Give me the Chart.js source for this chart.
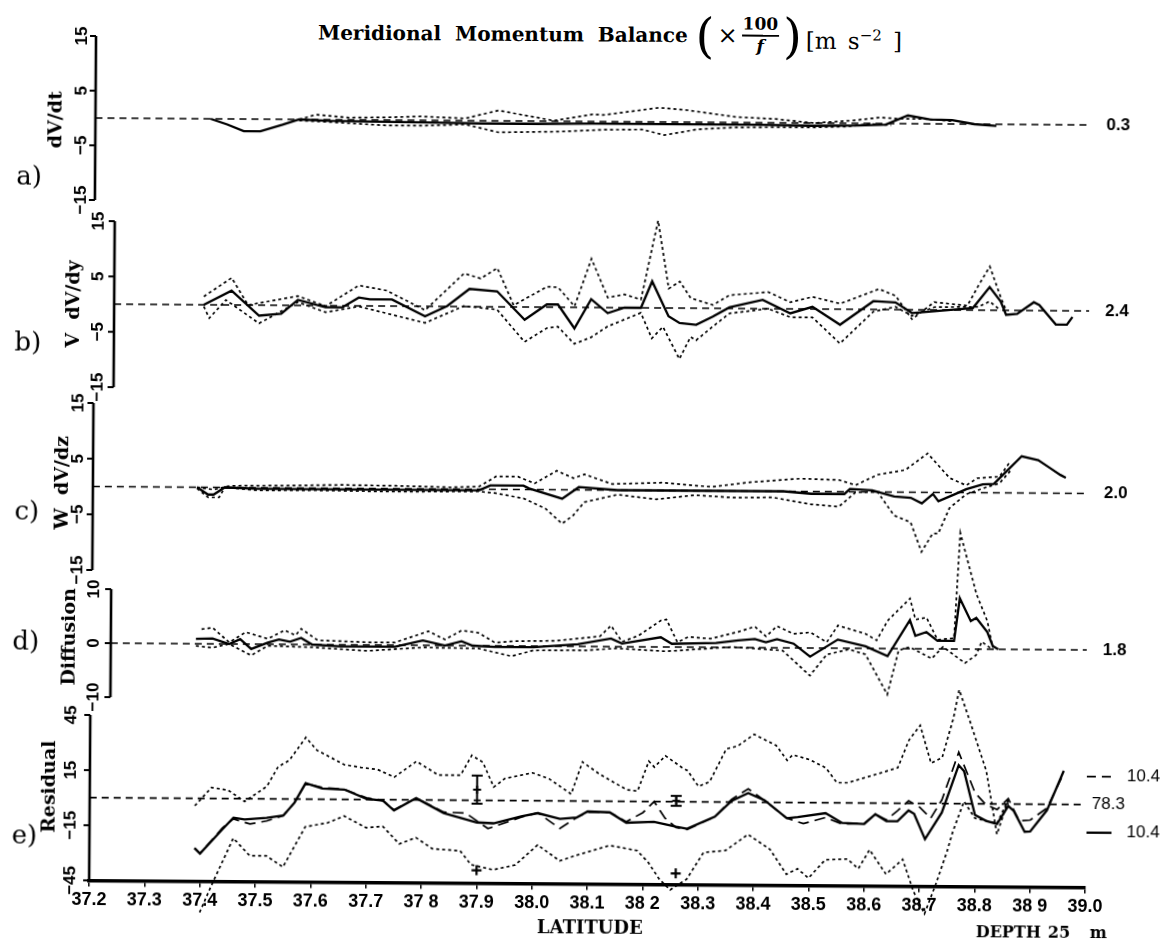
<!DOCTYPE html>
<html>
<head>
<meta charset="utf-8">
<title>Meridional Momentum Balance</title>
<script src="https://cdn.jsdelivr.net/npm/chart.js@4.4.1/dist/chart.umd.min.js"></script>
<style>
  html, body { margin: 0; padding: 0; background: #fff; overflow: hidden; }
  #page { position: relative; width: 1169px; height: 941px; transform: rotate(0.4deg); transform-origin: 92px 470px; }
  .panel { position: absolute; left: 0; }
  .txt { position: absolute; color: #000; white-space: nowrap; font-family: "DejaVu Serif", serif; }
</style>
</head>
<body>
<div id="page">
  <div class="txt" style="left:315px; top:2px; height:58px; display:flex; align-items:center; font-size:20px; font-weight:bold; word-spacing:7px;">
    <span>Meridional Momentum Balance</span>
    <span style="font-size:48px; font-weight:normal; margin:0 3px 0 8px; line-height:1;">(</span>
    <span style="font-size:24px; font-weight:normal;">&times;</span>
    <span style="display:inline-flex; flex-direction:column; align-items:center; font-size:17px; margin:0 2px 0 4px; line-height:1.05;">
      <span style="border-bottom:2px solid #000; padding:0 1px 1px;">100</span>
      <span style="font-style:italic; padding-top:1px;">f</span>
    </span>
    <span style="font-size:48px; font-weight:normal; margin:0 4px 0 2px; line-height:1;">)</span>
    <span style="font-size:23px; font-weight:normal; position:relative; top:4px; word-spacing:4px;">[m s<sup style="font-size:15px;">&minus;2</sup>&nbsp;]</span>
  </div>
  <div class="panel" style="top:0px"><canvas id="pa" width="1169" height="230"></canvas></div>
  <div class="panel" style="top:195px"><canvas id="pb" width="1169" height="215"></canvas></div>
  <div class="panel" style="top:380px"><canvas id="pc" width="1169" height="215"></canvas></div>
  <div class="panel" style="top:515px"><canvas id="pd" width="1169" height="205"></canvas></div>
  <div class="panel" style="top:670px"><canvas id="pe" width="1169" height="271"></canvas></div>
  <div class="txt" style="left:540px; top:913px; font-size:18px; font-weight:bold;">LATITUDE</div>
  <div class="txt" style="left:979px; top:916px; font-size:16px; font-weight:bold;">DEPTH</div>
  <div class="txt" style="left:1051px; top:916px; font-size:16px; font-weight:bold;">25</div>
  <div class="txt" style="left:1093px; top:916px; font-size:16px; font-weight:bold;">m</div>
</div>
<script>
// x axis tick labels as printed
const latTickLabels = ["37.2", "37.3", "37.4", "37.5", "37.6", "37.7", "37 8", "37.9", "38.0", "38.1", "38 2", "38.3", "38.4", "38.5", "38.6", "38.7", "38.8", "38 9", "39.0"];

const yTicks15 = [15, 5, -5, -15];
const yTickLabels15 = ["15", "5", "\u22125", "\u221215"];
const yTicksD = [10, 0, -10];
const yTickLabelsD = ["10", "0", "\u221210"];
const yTicksE = [45, 15, -15, -45];
const yTickLabelsE = ["45", "15", "\u221215", "\u221245"];

// a) dV/dt
const aSolidLat = [37.41, 37.44, 37.47, 37.50, 37.54, 37.57, 37.62, 37.70, 37.80, 37.90, 38.00, 38.10, 38.20, 38.30, 38.40, 38.50, 38.58, 38.63, 38.67, 38.71, 38.75, 38.79, 38.83];
const aSolid = [0, -1.0, -2.2, -2.2, -1.0, 0, -0.2, -0.3, -0.4, -0.5, -0.5, -0.4, -0.4, -0.4, -0.4, -0.5, -0.4, -0.2, 1.5, 0.8, 0.7, 0.0, -0.3];
const aUpperLat = [37.57, 37.60, 37.66, 37.73, 37.79, 37.87, 37.93, 38.03, 38.10, 38.12, 38.22, 38.27, 38.36, 38.43, 38.50, 38.57, 38.62, 38.65, 38.70, 38.75];
const aUpper = [0, 0.9, 0.4, 0.5, 0.7, 0.4, 1.9, 0.1, 1.3, 1.2, 2.6, 2.2, 1.0, 0.7, 0, 0.5, 1.1, 0.9, 0.9, 0.5];
const aLowerLat = [37.57, 37.62, 37.73, 37.79, 37.87, 37.93, 38.04, 38.12, 38.19, 38.23, 38.29, 38.36, 38.43, 38.50, 38.56, 38.60, 38.64];
const aLower = [-0.2, -0.4, -1.0, -1.0, -0.7, -2.1, -1.9, -1.5, -1.4, -2.4, -1.3, -0.9, -0.8, -0.8, -0.6, -0.1, -0.3];

// b) V dV/dy
const bSolidLat = [37.40, 37.45, 37.50, 37.54, 37.57, 37.62, 37.65, 37.68, 37.70, 37.74, 37.80, 37.84, 37.88, 37.93, 37.98, 38.02, 38.04, 38.07, 38.10, 38.13, 38.16, 38.19, 38.21, 38.24, 38.26, 38.29, 38.32, 38.35, 38.41, 38.46, 38.50, 38.55, 38.61, 38.65, 38.68, 38.79, 38.82, 38.84, 38.85, 38.87, 38.90, 38.91, 38.94, 38.96, 38.97];
const bSolid = [0, 2.6, -1.9, -1.5, 1.0, -0.3, -0.3, 1.5, 1.2, 1.2, -1.8, 0.1, 3.2, 2.8, -2.3, 0.5, 0.5, -3.8, 1.5, -1.0, 0, 0, 4.8, -1.5, -2.7, -3.0, -1.5, 0.2, 1.6, -0.8, 0.4, -2.8, 1.5, 1.3, -0.6, 0.4, 4.2, 1.6, -0.8, -0.6, 1.5, 1.0, -2.5, -2.5, -1.1];
const bUpperLat = [37.40, 37.45, 37.48, 37.57, 37.62, 37.68, 37.73, 37.80, 37.87, 37.90, 37.93, 37.96, 38.02, 38.04, 38.07, 38.10, 38.13, 38.16, 38.19, 38.22, 38.24, 38.26, 38.28, 38.32, 38.35, 38.42, 38.46, 38.50, 38.55, 38.62, 38.65, 38.68, 38.72, 38.78, 38.80, 38.82, 38.84, 38.85];
const bUpper = [1.5, 4.9, 0, 1.7, -0.1, 3.7, 2.8, -0.7, 6.0, 5.1, 7.0, 0.3, 3.7, 3.6, 0.2, 8.8, 1.8, 2.4, 1.5, 15.8, 3.5, 4.8, 1.8, 0.6, 2.4, 3.0, 1.2, 2.2, 1.0, 3.7, 2.5, -1.7, 1.4, 0.8, 4.5, 7.9, 2.4, 0];
const bLowerLat = [37.40, 37.41, 37.44, 37.50, 37.57, 37.62, 37.68, 37.80, 37.87, 37.93, 37.98, 38.02, 38.04, 38.07, 38.10, 38.13, 38.19, 38.21, 38.23, 38.26, 38.28, 38.29, 38.32, 38.35, 38.42, 38.46, 38.50, 38.55, 38.61, 38.65, 38.68, 38.72, 38.80, 38.82, 38.84];
const bLower = [-0.3, -2.4, 0.9, -3.3, 0.6, -1.2, -0.1, -3.0, 0.1, -0.5, -6.3, -3.8, -3.5, -6.6, -5.4, -3.4, -0.9, -5.5, -3.4, -9.2, -5.2, -5.8, -3.3, -0.9, 0, -1.5, -1.5, -6.2, -0.4, 0.5, -1.1, 0.5, 0.6, 1.6, 0];

// c) W dV/dz
const cSolidLat = [37.39, 37.41, 37.42, 37.44, 37.50, 37.60, 37.70, 37.80, 37.90, 37.92, 37.98, 37.99, 38.05, 38.08, 38.15, 38.25, 38.35, 38.45, 38.50, 38.56, 38.57, 38.61, 38.65, 38.68, 38.70, 38.72, 38.73, 38.76, 38.78, 38.81, 38.83, 38.88, 38.91, 38.93, 38.95, 38.96];
const cSolid = [0, -1.3, -1.3, 0, -0.2, -0.2, -0.2, -0.2, -0.2, 0.7, 0.7, 0.2, -1.6, 0.5, 0, 0, 0, 0, -0.4, -0.4, 0.5, 0.3, -0.8, -1.0, -2.0, -0.3, -1.6, -0.3, 0.6, 1.5, 1.6, 6.6, 5.9, 4.6, 3.3, 2.8];
const cUpperLat = [37.39, 37.42, 37.45, 37.55, 37.65, 37.75, 37.85, 37.90, 37.93, 37.97, 38.00, 38.04, 38.07, 38.09, 38.14, 38.23, 38.32, 38.39, 38.48, 38.55, 38.58, 38.62, 38.67, 38.71, 38.75, 38.78, 38.80, 38.84, 38.86];
const cUpper = [0, -0.4, 0.3, 0.4, 0.6, 0.5, 0.3, 0.5, 2.3, 2.3, 1.1, 3.4, 2.1, 2.8, 1.1, 1.4, 0.7, 1.6, 2.3, 2.1, 1.2, 3.1, 4.0, 7.0, 2.6, 1.3, 2.6, 2.9, 5.7];
const cLowerLat = [37.39, 37.41, 37.43, 37.44, 37.50, 37.60, 37.70, 37.80, 37.90, 37.93, 37.98, 38.02, 38.05, 38.07, 38.09, 38.15, 38.22, 38.29, 38.36, 38.43, 38.50, 38.55, 38.58, 38.62, 38.65, 38.68, 38.70, 38.72, 38.73, 38.75, 38.78, 38.82, 38.84, 38.86];
const cLower = [-0.2, -1.8, -1.8, 0, -0.5, -0.4, -0.5, -0.5, -0.4, -0.7, -1.6, -3.4, -6.1, -4.6, -2.2, -0.8, -1.6, -0.8, -1.2, -1.1, -2.3, -2.7, -0.1, 0, -4.2, -5.4, -10.7, -7.4, -7.4, -2.8, -0.3, 1.1, 1.7, 4.0];

// d) Diffusion
const dSolidLat = [37.39, 37.42, 37.45, 37.47, 37.49, 37.52, 37.54, 37.56, 37.58, 37.60, 37.65, 37.70, 37.75, 37.80, 37.84, 37.87, 37.89, 37.93, 38.00, 38.08, 38.14, 38.16, 38.23, 38.25, 38.33, 38.37, 38.40, 38.42, 38.44, 38.47, 38.50, 38.55, 38.60, 38.64, 38.68, 38.69, 38.71, 38.73, 38.76, 38.77, 38.79, 38.80, 38.82, 38.83, 38.84];
const dSolid = [0.9, 1.0, 0, 0.9, -0.9, 0.3, 0.9, 0.5, 1.2, 0, -0.3, -0.3, -0.3, 0.9, 0, 0.8, 0, -0.2, -0.2, 0.4, 1.5, 0.6, 1.8, 0.6, 0.8, 1.3, 1.6, 1.0, 1.6, 0.8, -1.6, 1.6, 0.4, -1.4, 5.3, 2.4, 3.1, 1.5, 1.5, 9.4, 5.2, 5.8, 3.2, 0.6, 0];
const dUpperLat = [37.40, 37.42, 37.45, 37.48, 37.52, 37.55, 37.57, 37.58, 37.61, 37.70, 37.75, 37.81, 37.84, 37.87, 37.90, 37.93, 37.97, 38.04, 38.12, 38.14, 38.16, 38.19, 38.23, 38.24, 38.26, 38.28, 38.32, 38.37, 38.40, 38.42, 38.44, 38.47, 38.50, 38.53, 38.55, 38.60, 38.62, 38.64, 38.68, 38.69, 38.71, 38.73, 38.76, 38.77, 38.80, 38.82, 38.83];
const dUpper = [2.7, 3.0, 0.3, 2.2, 1.0, 2.6, 1.7, 2.9, 0.8, 0.5, 0.5, 2.6, 1.1, 2.8, 2.4, 0.6, 0.9, 1.0, 1.9, 3.9, 0.9, 2.1, 4.9, 5.1, 0.9, 1.9, 1.6, 2.9, 3.9, 2.1, 4.0, 2.6, 2.9, 1.1, 4.2, 2.7, 1.5, 5.2, 9.3, 5.4, 5.8, 1.7, 2.0, 21.5, 10.2, 5.2, 0.3];
const dLowerLat = [37.39, 37.42, 37.45, 37.49, 37.52, 37.60, 37.70, 37.80, 37.90, 37.96, 38.00, 38.10, 38.15, 38.24, 38.36, 38.45, 38.50, 38.53, 38.57, 38.60, 38.64, 38.66, 38.68, 38.72, 38.74, 38.78, 38.80, 38.81, 38.83];
const dLower = [-0.4, -0.7, 0, -2.1, -0.3, -0.5, -1.1, -0.4, -0.5, -1.9, -0.8, -0.7, -0.3, -0.8, 0.1, -0.5, -5.1, -1.2, -0.2, -1.1, -8.5, -0.3, 0.3, -1.8, 0.4, -2.6, -1.1, 1.4, -0.1];

// e) Residual
const eSolidLat = [37.39, 37.40, 37.44, 37.46, 37.48, 37.52, 37.55, 37.57, 37.59, 37.62, 37.66, 37.70, 37.73, 37.75, 37.79, 37.84, 37.90, 37.93, 37.98, 38.01, 38.05, 38.08, 38.10, 38.14, 38.17, 38.22, 38.26, 38.28, 38.33, 38.36, 38.39, 38.42, 38.46, 38.48, 38.53, 38.56, 38.60, 38.62, 38.64, 38.66, 38.68, 38.69, 38.71, 38.74, 38.77, 38.78, 38.80, 38.82, 38.84, 38.86, 38.87, 38.89, 38.90, 38.93, 38.96];
const eSolid = [-27, -30, -16.8, -10.3, -11.3, -10.3, -9, -2, 8.7, 5.9, 5.4, 0.5, -0.5, -5.8, 1, -7, -12, -12.4, -8.5, -6.7, -9.8, -9, -5.6, -6, -11.6, -11, -13.6, -14.6, -8, 0.7, 5, 1.1, -8.5, -7.9, -5.6, -10.9, -11.4, -6, -9.7, -9.7, -3.8, -5.6, -19.4, -4.9, 21, 17.6, -6, -9.2, -10.8, -1, -3.7, -15, -14.8, -3.2, 18.3];
const eDashLat = [37.39, 37.40, 37.44, 37.46, 37.49, 37.52, 37.55, 37.57, 37.59, 37.62, 37.66, 37.70, 37.73, 37.75, 37.79, 37.84, 37.88, 37.92, 37.98, 38.01, 38.05, 38.08, 38.10, 38.14, 38.17, 38.20, 38.22, 38.24, 38.26, 38.28, 38.33, 38.36, 38.39, 38.42, 38.46, 38.49, 38.53, 38.56, 38.60, 38.62, 38.64, 38.66, 38.68, 38.70, 38.72, 38.74, 38.77, 38.80, 38.82, 38.84, 38.86, 38.88, 38.90, 38.93, 38.96];
const eDash = [-27, -30, -16, -11, -13.7, -12, -9, -2, 8.5, 6.5, 5.5, 1, -0.5, -5.5, 1, -6.5, -7, -15.3, -9, -6.5, -15, -9, -6, -6, -11, -6, 0, -9, -14, -15, -8, 1.5, 7.3, 1, -8.5, -11.4, -8, -11.5, -11, -6, -9, -4, 1.4, -2, -8, 2, 28, 6, -0.5, -3, 3, -9, -8.6, -2, 17];
const eUpperLat = [37.39, 37.42, 37.45, 37.48, 37.52, 37.54, 37.56, 37.59, 37.61, 37.66, 37.69, 37.72, 37.75, 37.79, 37.83, 37.87, 37.89, 37.91, 37.93, 37.95, 38.00, 38.03, 38.07, 38.09, 38.12, 38.17, 38.19, 38.21, 38.22, 38.24, 38.27, 38.28, 38.30, 38.32, 38.35, 38.37, 38.40, 38.44, 38.46, 38.47, 38.50, 38.53, 38.55, 38.57, 38.62, 38.66, 38.68, 38.70, 38.72, 38.74, 38.76, 38.77, 38.79, 38.82, 38.84, 38.86];
const eUpper = [-4, 6, 4.6, -1.5, 6.8, 17.5, 21, 33.6, 26.7, 18.9, 17.5, 16.4, 12.3, 21, 13.6, 13.7, 24.5, 20.8, 7.3, 12, 15.2, 12, 3.8, 21.3, 15, 6.4, 5.7, 22, 18.8, 25, 18.6, 17, 8.4, 11, 29, 30.5, 37, 31, 23, 26, 23.5, 19, 11, 11, 15.6, 19.4, 34.5, 42.5, 22, 25, 46.6, 62, 44.8, 17.9, -16.5, 2.2];
const eLowerLat = [37.40, 37.42, 37.46, 37.49, 37.52, 37.55, 37.59, 37.63, 37.66, 37.70, 37.73, 37.76, 37.79, 37.82, 37.87, 37.89, 37.93, 37.97, 38.01, 38.05, 38.08, 38.14, 38.19, 38.21, 38.23, 38.25, 38.28, 38.31, 38.35, 38.39, 38.43, 38.46, 38.48, 38.50, 38.53, 38.57, 38.59, 38.61, 38.64, 38.67, 38.69, 38.71, 38.73, 38.75, 38.76, 38.78, 38.80, 38.84, 38.86];
const eLower = [-62, -48, -21.5, -31, -31, -37, -15, -12.8, -9, -15.3, -14.5, -24, -20.5, -26.5, -27.5, -35, -37.7, -35, -24, -32.6, -29.5, -24, -26.7, -33, -42, -48, -42, -27.5, -26.3, -17.5, -25.5, -39, -36, -41, -31, -30.5, -35.7, -25.4, -38.6, -30.5, -48, -60, -44, -26, -15.4, 1.3, -7.8, -10.5, 2.4];

// error bars and marks in e)
const errLat = [37.90, 38.26];
const errHigh = [13.5, 3.2];
const errLow = [-1.8, -2.2];
const errMid = [5.8, 0.5];
const starVal = [-38, -39];

// values printed at the right of each panel
const aNote = "0.3";
const bNote = "2.4";
const cNote = "2.0";
const dNote = "1.8";
const eNotes = ["10.4", "78.3", "10.4"];

const lineStyles = {
  solid: { width: 2.3, dash: [] },
  dot: { width: 1.7, dash: [3, 3] },
  dash: { width: 1.7, dash: [11, 6] },
};

function lineDataset(lat, val, style) {
  return {
    data: lat.map((x, i) => ({ x: x, y: val[i] })),
    borderColor: "#000",
    borderWidth: lineStyles[style].width,
    borderDash: lineStyles[style].dash,
    pointRadius: 0,
    tension: 0,
    fill: false,
    clip: false,
  };
}

const panelAxis = {
  id: "panelAxis",
  beforeDatasetsDraw(chart, args, o) {
    const ctx = chart.ctx;
    const x = chart.scales.x;
    const y = chart.scales.y;
    const left = x.getPixelForValue(37.2) + o.shift;
    const y0 = y.getPixelForValue(0);
    ctx.save();
    ctx.strokeStyle = "#000";
    ctx.lineWidth = 1.7;
    ctx.setLineDash([7, 5]);
    ctx.beginPath();
    ctx.moveTo(left, y0);
    ctx.lineTo(x.getPixelForValue(39.0), y0);
    ctx.stroke();
    ctx.restore();
  },
  afterDatasetsDraw(chart, args, o) {
    const ctx = chart.ctx;
    const x = chart.scales.x;
    const y = chart.scales.y;
    const left = x.getPixelForValue(37.2) + o.shift;
    const right = x.getPixelForValue(39.0);
    const y0 = y.getPixelForValue(0);
    ctx.save();
    ctx.strokeStyle = "#000";
    ctx.fillStyle = "#000";
    ctx.setLineDash([]);

    // y axis with rotated tick labels
    ctx.lineWidth = 2.6;
    ctx.beginPath();
    ctx.moveTo(left, y.getPixelForValue(y.max));
    ctx.lineTo(left, y.getPixelForValue(y.min));
    ctx.stroke();
    ctx.lineWidth = 2;
    ctx.font = "bold 17px 'Liberation Sans'";
    ctx.textAlign = "center";
    ctx.textBaseline = "middle";
    o.ticks.forEach((v, i) => {
      const py = y.getPixelForValue(v);
      ctx.beginPath();
      ctx.moveTo(left - 6, py);
      ctx.lineTo(left, py);
      ctx.stroke();
      ctx.save();
      ctx.translate(left - o.labelGap, py);
      ctx.rotate(-Math.PI / 2);
      ctx.fillText(o.tickLabels[i], 0, 0);
      ctx.restore();
    });

    // axis title
    ctx.save();
    ctx.font = "bold 19px 'DejaVu Serif'";
    ctx.translate(o.titleX, o.titleY - o.top);
    ctx.rotate(-Math.PI / 2);
    ctx.fillText(o.title, 0, 0);
    ctx.restore();

    // panel letter
    ctx.font = "26px 'DejaVu Serif'";
    ctx.fillText(o.letter, 27, o.letterY - o.top);

    // right side values
    ctx.textAlign = "left";
    if (o.note) {
      ctx.font = "bold 17px 'Liberation Sans'";
      ctx.fillText(o.note, right + 16, y0);
    }
    if (o.notes) {
      ctx.font = "17px 'Liberation Sans'";
      ctx.lineWidth = 1.7;
      ctx.setLineDash([9, 6]);
      ctx.beginPath();
      ctx.moveTo(right + 1, y0 - 28);
      ctx.lineTo(right + 26, y0 - 28);
      ctx.stroke();
      ctx.setLineDash([]);
      ctx.lineWidth = 2.3;
      ctx.beginPath();
      ctx.moveTo(right + 1, y0 + 28);
      ctx.lineTo(right + 26, y0 + 28);
      ctx.stroke();
      ctx.fillText(o.notes[0], right + 41, y0 - 28);
      ctx.fillText(o.notes[1], right + 6, y0);
      ctx.fillText(o.notes[2], right + 41, y0 + 28);
    }
    ctx.restore();
  },
};

const errorSets = errLat.map((lat, i) => ({
  data: [{ x: lat, y: errLow[i] }, { x: lat, y: errHigh[i] }],
  borderColor: "#000",
  borderWidth: 2,
  pointStyle: "line",
  pointRadius: 5.5,
  pointBorderWidth: 2,
  pointBorderColor: "#000",
  clip: false,
}));
errorSets.push({
  data: errLat.map((lat, i) => ({ x: lat, y: errMid[i] })),
  showLine: false,
  pointStyle: "cross",
  pointRadius: 4,
  pointBorderWidth: 2,
  pointBorderColor: "#000",
  clip: false,
});
errorSets.push({
  data: errLat.map((lat, i) => ({ x: lat, y: starVal[i] })),
  showLine: false,
  pointStyle: "cross",
  pointRadius: 5,
  pointBorderWidth: 2.2,
  pointBorderColor: "#000",
  clip: false,
});

const panels = [
  {
    id: "pa", top: 0, padTop: 36, padBottom: 30, min: -15, max: 15,
    series: [[aUpperLat, aUpper, "dot"], [aLowerLat, aLower, "dot"], [aSolidLat, aSolid, "solid"]],
    axis: { shift: 1, ticks: yTicks15, tickLabels: yTickLabels15, labelGap: 14, title: "dV/dt", titleX: 54, titleY: 120, letter: "a)", letterY: 178, note: aNote },
  },
  {
    id: "pb", top: 195, padTop: 26, padBottom: 23, min: -15, max: 15,
    series: [[bUpperLat, bUpper, "dot"], [bLowerLat, bLower, "dot"], [bSolidLat, bSolid, "solid"]],
    axis: { shift: 21, ticks: yTicks15, tickLabels: yTickLabels15, labelGap: 16, title: "V  dV/dy", titleX: 73, titleY: 304, letter: "b)", letterY: 344, note: bNote },
  },
  {
    id: "pc", top: 380, padTop: 23, padBottom: 25, min: -15, max: 15,
    series: [[cUpperLat, cUpper, "dot"], [cLowerLat, cLower, "dot"], [cSolidLat, cSolid, "solid"]],
    axis: { shift: 1, ticks: yTicks15, tickLabels: yTickLabels15, labelGap: 15, title: "W  dV/dz", titleX: 63, titleY: 483, letter: "c)", letterY: 513, note: cNote },
  },
  {
    id: "pd", top: 515, padTop: 74, padBottom: 23, min: -10, max: 10,
    series: [[dUpperLat, dUpper, "dot"], [dLowerLat, dLower, "dot"], [dSolidLat, dSolid, "solid"]],
    axis: { shift: 20, ticks: yTicksD, tickLabels: yTickLabelsD, labelGap: 17, title: "Diffusion", titleX: 71, titleY: 637, letter: "d)", letterY: 643, note: dNote },
  },
  {
    id: "pe", top: 670, padTop: 45, padBottom: 27, min: -45, max: 45, xAxis: true,
    series: [[eUpperLat, eUpper, "dot"], [eLowerLat, eLower, "dot"], [eDashLat, eDash, "dash"], [eSolidLat, eSolid, "solid"]],
    extra: errorSets,
    axis: { shift: 0, ticks: yTicksE, tickLabels: yTickLabelsE, labelGap: 19, title: "Residual", titleX: 52, titleY: 787, letter: "e)", letterY: 837, notes: eNotes },
  },
];

panels.forEach((p) => {
  const datasets = p.series.map((s) => lineDataset(s[0], s[1], s[2]));
  if (p.extra) datasets.push(...p.extra);
  p.axis.top = p.top;
  new Chart(document.getElementById(p.id), {
    type: "line",
    data: { datasets: datasets },
    options: {
      responsive: false,
      animation: false,
      events: [],
      layout: { padding: { left: 92, right: 81, top: p.padTop, bottom: p.padBottom } },
      scales: {
        x: {
          type: "linear",
          min: 37.2,
          max: 39.0,
          display: !!p.xAxis,
          ticks: {
            stepSize: 0.1,
            autoSkip: false,
            maxRotation: 0,
            minRotation: 0,
            padding: 3,
            color: "#000",
            font: { family: "'Liberation Sans'", size: 18, weight: "bold" },
            callback: (v) => latTickLabels[Math.round((v - 37.2) * 10)],
          },
          grid: { display: true, drawOnChartArea: false, drawTicks: true, tickLength: 6, color: "#000", lineWidth: 1.5 },
          border: { display: true, color: "#000", width: 3.5 },
        },
        y: { type: "linear", min: p.min, max: p.max, display: false },
      },
      plugins: {
        legend: { display: false },
        tooltip: { enabled: false },
        panelAxis: p.axis,
      },
    },
    plugins: [panelAxis],
  });
});
</script>
</body>
</html>
